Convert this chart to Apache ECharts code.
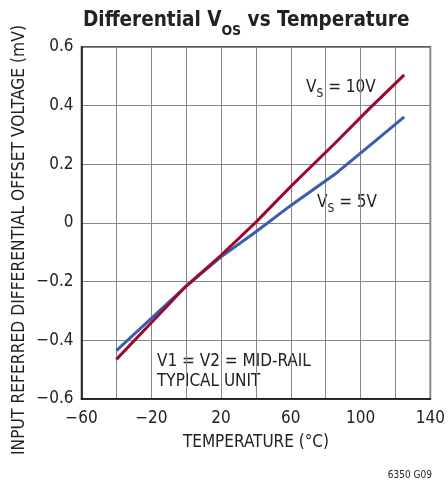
<!DOCTYPE html>
<html>
<head>
<meta charset="utf-8">
<script src="https://cdn.jsdelivr.net/npm/echarts@6/dist/echarts.min.js"></script>
<style>
  html, body { margin: 0; padding: 0; background: #fff; }
  #chart { width: 448px; height: 481px; }
</style>
</head>
<body>
<div id="chart"></div>
<script>
// temperature (°C) and differential Vos (mV)
var temps = [-40, -20, 0, 20, 40, 60, 85, 105, 125];
var vs10 = [-0.465, -0.34, -0.215, -0.11, 0.003, 0.125, 0.27, 0.39, 0.505];
var vs5 = [-0.435, -0.325, -0.215, -0.115, -0.03, 0.06, 0.165, 0.263, 0.362];
var xTicks = [-60, -20, 20, 60, 100, 140];

var font = '"DejaVu Sans Condensed", "Liberation Sans Narrow", "Liberation Sans", sans-serif';
var minus = function (v) { return String(v).replace('-', '\u2212'); };

function pairs(ys) {
  return temps.map(function (t, i) { return [t, ys[i]]; });
}

var chart = echarts.init(document.getElementById('chart'));
chart.setOption({
  animation: false,
  title: {
    text: '{a|Differential V}{b|OS}{a| vs Temperature}',
    left: 78,
    top: -8,
    textStyle: {
      rich: {
        a: { fontFamily: font, fontWeight: 'bold', fontSize: 20.5, color: '#222', verticalAlign: 'bottom', lineHeight: 34 },
        b: { fontFamily: font, fontWeight: 'bold', fontSize: 14, color: '#222', verticalAlign: 'bottom', lineHeight: 26, padding: [0, 0, -7, 0] }
      }
    }
  },
  grid: { left: 81.5, right: 15.5, top: 47, bottom: 82, show: true, borderColor: '#222', borderWidth: 1.5 },
  xAxis: {
    type: 'value',
    min: -60,
    max: 140,
    interval: 20,
    name: 'TEMPERATURE (\u00b0C)',
    nameLocation: 'middle',
    nameGap: 35,
    nameTextStyle: { fontFamily: font, fontSize: 17, color: '#222' },
    axisLine: { onZero: false, lineStyle: { color: '#111', width: 1.5 } },
    axisTick: { show: false },
    splitLine: { lineStyle: { color: '#888', width: 1 } },
    axisLabel: {
      margin: 11,
      fontFamily: font,
      fontSize: 17,
      color: '#222',
      formatter: function (v) { return xTicks.indexOf(v) >= 0 ? minus(v) : ''; }
    }
  },
  yAxis: {
    type: 'value',
    min: -0.6,
    max: 0.6,
    interval: 0.2,
    axisLine: { show: true, onZero: false, lineStyle: { color: '#111', width: 1.5 } },
    axisTick: { show: false },
    splitLine: { lineStyle: { color: '#888', width: 1 } },
    axisLabel: {
      margin: 8,
      fontFamily: font,
      fontSize: 17,
      color: '#222',
      formatter: function (v) { return minus(Math.round(v * 10) / 10); }
    }
  },
  series: [
    {
      name: 'VS = 5V',
      type: 'line',
      data: pairs(vs5),
      showSymbol: false,
      lineStyle: { color: '#3a5eae', width: 3 }
    },
    {
      name: 'VS = 10V',
      type: 'line',
      data: pairs(vs10),
      showSymbol: false,
      lineStyle: { color: '#9a0a30', width: 3 }
    }
  ],
  graphic: [
    {
      type: 'text', x: 20, y: 240, rotation: Math.PI / 2,
      style: { text: 'INPUT REFERRED DIFFERENTIAL OFFSET VOLTAGE (mV)', fontFamily: font, fontSize: 17.3, fill: '#222', align: 'center', verticalAlign: 'middle' }
    },
    {
      type: 'text', left: 306, top: 79,
      style: { text: '{a|V}{b|S}{a| = 10V}', rich: {
        a: { fontFamily: font, fontSize: 17, fill: '#222', verticalAlign: 'bottom', lineHeight: 22 },
        b: { fontFamily: font, fontSize: 12, fill: '#222', verticalAlign: 'bottom', lineHeight: 16, padding: [0, 0, -4, 0] }
      } }
    },
    {
      type: 'text', left: 317, top: 194,
      style: { text: '{a|V}{b|S}{a| = 5V}', rich: {
        a: { fontFamily: font, fontSize: 17, fill: '#222', verticalAlign: 'bottom', lineHeight: 22 },
        b: { fontFamily: font, fontSize: 12, fill: '#222', verticalAlign: 'bottom', lineHeight: 16, padding: [0, 0, -4, 0] }
      } }
    },
    {
      type: 'text', left: 157, top: 352,
      style: { text: 'V1 = V2 = MID-RAIL\nTYPICAL UNIT', fontFamily: font, fontSize: 17, lineHeight: 20, fill: '#222' }
    },
    {
      type: 'text', right: 16, top: 470,
      style: { text: '6350 G09', fontFamily: font, fontSize: 10, fill: '#222' }
    }
  ]
});
</script>
</body>
</html>
